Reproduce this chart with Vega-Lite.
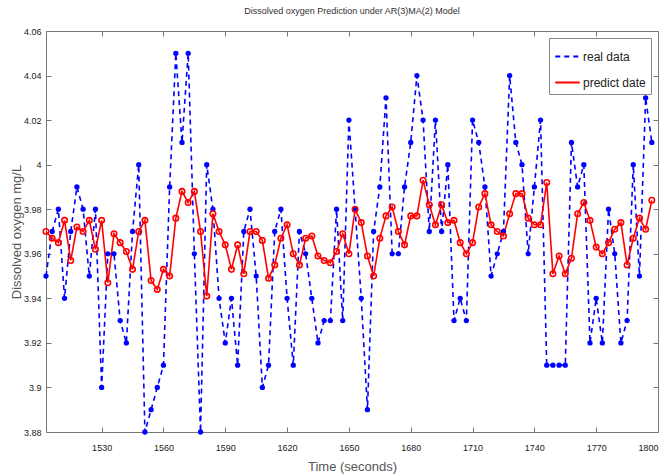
{
  "$schema": "https://vega.github.io/schema/vega-lite/v6.json",
  "autosize": {"type": "none"},
  "width": 612,
  "height": 401,
  "padding": {"left": 46, "top": 31, "right": 8, "bottom": 44},
  "background": "white",
  "title": {"text": "Dissolved oxygen Prediction under AR(3)MA(2) Model", "font": "Liberation Sans", "fontSize": 9, "fontWeight": "normal", "color": "#333", "offset": 11, "anchor": "middle"},
  "config": {
    "view": {"stroke": "#777", "strokeWidth": 1},
    "axis": {"grid": false, "domain": false, "tickColor": "#777", "tickSize": -5, "labelFont": "Liberation Sans", "labelFontSize": 9, "labelColor": "#222", "titleFont": "Liberation Sans", "titleFontSize": 13, "titleFontWeight": "normal", "titleColor": "#555"}
  },
  "data": {"values": [
    {"t":1503,"real data":3.95,"predict date":3.970},
    {"t":1506,"real data":3.97,"predict date":3.967},
    {"t":1509,"real data":3.98,"predict date":3.965},
    {"t":1512,"real data":3.94,"predict date":3.975},
    {"t":1515,"real data":3.97,"predict date":3.957},
    {"t":1518,"real data":3.99,"predict date":3.972},
    {"t":1521,"real data":3.98,"predict date":3.970},
    {"t":1524,"real data":3.95,"predict date":3.975},
    {"t":1527,"real data":3.98,"predict date":3.962},
    {"t":1530,"real data":3.90,"predict date":3.975},
    {"t":1533,"real data":3.96,"predict date":3.947},
    {"t":1536,"real data":3.96,"predict date":3.969},
    {"t":1539,"real data":3.93,"predict date":3.965},
    {"t":1542,"real data":3.92,"predict date":3.961},
    {"t":1545,"real data":3.97,"predict date":3.953},
    {"t":1548,"real data":4.00,"predict date":3.970},
    {"t":1551,"real data":3.88,"predict date":3.975},
    {"t":1554,"real data":3.89,"predict date":3.948},
    {"t":1557,"real data":3.90,"predict date":3.944},
    {"t":1560,"real data":3.91,"predict date":3.953},
    {"t":1563,"real data":3.99,"predict date":3.950},
    {"t":1566,"real data":4.05,"predict date":3.976},
    {"t":1569,"real data":4.01,"predict date":3.988},
    {"t":1572,"real data":4.05,"predict date":3.983},
    {"t":1575,"real data":3.96,"predict date":3.988},
    {"t":1578,"real data":3.88,"predict date":3.970},
    {"t":1581,"real data":4.00,"predict date":3.941},
    {"t":1584,"real data":3.98,"predict date":3.978},
    {"t":1587,"real data":3.94,"predict date":3.970},
    {"t":1590,"real data":3.92,"predict date":3.964},
    {"t":1593,"real data":3.94,"predict date":3.953},
    {"t":1596,"real data":3.91,"predict date":3.964},
    {"t":1599,"real data":3.97,"predict date":3.951},
    {"t":1602,"real data":3.98,"predict date":3.970},
    {"t":1605,"real data":3.95,"predict date":3.970},
    {"t":1608,"real data":3.90,"predict date":3.966},
    {"t":1611,"real data":3.91,"predict date":3.949},
    {"t":1614,"real data":3.97,"predict date":3.955},
    {"t":1617,"real data":3.98,"predict date":3.967},
    {"t":1620,"real data":3.94,"predict date":3.973},
    {"t":1623,"real data":3.91,"predict date":3.960},
    {"t":1626,"real data":3.97,"predict date":3.955},
    {"t":1629,"real data":3.96,"predict date":3.967},
    {"t":1632,"real data":3.94,"predict date":3.968},
    {"t":1635,"real data":3.92,"predict date":3.959},
    {"t":1638,"real data":3.93,"predict date":3.957},
    {"t":1641,"real data":3.93,"predict date":3.956},
    {"t":1644,"real data":3.98,"predict date":3.961},
    {"t":1647,"real data":3.93,"predict date":3.969},
    {"t":1650,"real data":4.02,"predict date":3.960},
    {"t":1653,"real data":3.98,"predict date":3.980},
    {"t":1656,"real data":3.94,"predict date":3.974},
    {"t":1659,"real data":3.89,"predict date":3.959},
    {"t":1662,"real data":3.97,"predict date":3.950},
    {"t":1665,"real data":3.99,"predict date":3.967},
    {"t":1668,"real data":4.03,"predict date":3.977},
    {"t":1671,"real data":3.96,"predict date":3.981},
    {"t":1674,"real data":3.96,"predict date":3.970},
    {"t":1677,"real data":3.99,"predict date":3.964},
    {"t":1680,"real data":4.01,"predict date":3.977},
    {"t":1683,"real data":4.04,"predict date":3.977},
    {"t":1686,"real data":4.02,"predict date":3.993},
    {"t":1689,"real data":3.97,"predict date":3.982},
    {"t":1692,"real data":4.02,"predict date":3.973},
    {"t":1695,"real data":3.97,"predict date":3.982},
    {"t":1698,"real data":4.00,"predict date":3.974},
    {"t":1701,"real data":3.93,"predict date":3.975},
    {"t":1704,"real data":3.94,"predict date":3.965},
    {"t":1707,"real data":3.93,"predict date":3.960},
    {"t":1710,"real data":4.02,"predict date":3.965},
    {"t":1713,"real data":4.01,"predict date":3.981},
    {"t":1716,"real data":3.99,"predict date":3.987},
    {"t":1719,"real data":3.95,"predict date":3.973},
    {"t":1722,"real data":3.96,"predict date":3.970},
    {"t":1725,"real data":3.97,"predict date":3.968},
    {"t":1728,"real data":4.04,"predict date":3.978},
    {"t":1731,"real data":4.01,"predict date":3.987},
    {"t":1734,"real data":4.00,"predict date":3.987},
    {"t":1737,"real data":3.96,"predict date":3.976},
    {"t":1740,"real data":3.99,"predict date":3.973},
    {"t":1743,"real data":4.02,"predict date":3.973},
    {"t":1746,"real data":3.91,"predict date":3.992},
    {"t":1749,"real data":3.91,"predict date":3.951},
    {"t":1752,"real data":3.91,"predict date":3.959},
    {"t":1755,"real data":3.91,"predict date":3.951},
    {"t":1758,"real data":4.01,"predict date":3.958},
    {"t":1761,"real data":3.99,"predict date":3.978},
    {"t":1764,"real data":4.00,"predict date":3.983},
    {"t":1767,"real data":3.92,"predict date":3.975},
    {"t":1770,"real data":3.94,"predict date":3.963},
    {"t":1773,"real data":3.92,"predict date":3.960},
    {"t":1776,"real data":3.98,"predict date":3.965},
    {"t":1779,"real data":3.96,"predict date":3.971},
    {"t":1782,"real data":3.92,"predict date":3.974},
    {"t":1785,"real data":3.93,"predict date":3.955},
    {"t":1788,"real data":4.00,"predict date":3.967},
    {"t":1791,"real data":3.95,"predict date":3.976},
    {"t":1794,"real data":4.03,"predict date":3.971},
    {"t":1797,"real data":4.01,"predict date":3.984}
  ]},
  "transform": [{"fold": ["real data", "predict date"], "as": ["series", "value"]}],
  "resolve": {"axis": {"x": "independent", "y": "independent"}},
  "layer": [
    {
      "mark": {"type": "line", "strokeWidth": 1.6},
      "encoding": {
        "x": {"field": "t", "type": "quantitative", "scale": {"domain": [1503, 1800], "nice": false, "zero": false},
              "axis": {"orient": "bottom", "values": [1530,1560,1590,1620,1650,1680,1710,1740,1770,1800], "format": "d", "title": "Time (seconds)", "labelPadding": 16, "titlePadding": 8}},
        "y": {"field": "value", "type": "quantitative", "scale": {"domain": [3.88, 4.06], "nice": false, "zero": false},
              "axis": {"orient": "left", "values": [3.88,3.9,3.92,3.94,3.96,3.98,4,4.02,4.04,4.06], "format": ".2~f", "title": "Dissolved oxygen mg/L", "labelPadding": 10, "titlePadding": 0}},
        "color": {"field": "series", "type": "nominal", "scale": {"domain": ["real data", "predict date"], "range": ["#0000ff", "#ff0000"]},
                  "legend": {"title": null, "orient": "top-right", "offset": 7, "symbolType": "stroke", "symbolSize": 600, "symbolStrokeWidth": 2, "labelFont": "Liberation Sans", "labelFontSize": 12, "labelColor": "#222", "strokeColor": "#888", "fillColor": "white", "padding": 5, "rowPadding": 6, "symbolOffset": 0, "labelOffset": 2}},
        "strokeDash": {"field": "series", "type": "nominal", "scale": {"domain": ["real data", "predict date"], "range": [[5, 4], [1, 0]]}, "legend": {"title": null}},
        "order": {"field": "t", "type": "quantitative"}
      }
    },
    {
      "transform": [{"filter": "datum.series === 'real data'"}],
      "mark": {"type": "point", "filled": true, "color": "#0000ff", "size": 28, "opacity": 1},
      "encoding": {
        "x": {"field": "t", "type": "quantitative", "axis": {"orient": "top", "values": [1530,1560,1590,1620,1650,1680,1710,1740,1770,1800], "labels": false, "title": null}},
        "y": {"field": "value", "type": "quantitative", "axis": {"orient": "right", "values": [3.88,3.9,3.92,3.94,3.96,3.98,4,4.02,4.04,4.06], "labels": false, "title": null}}
      }
    },
    {
      "transform": [{"filter": "datum.series === 'predict date'"}],
      "mark": {"type": "point", "filled": false, "color": "#ff0000", "size": 30, "strokeWidth": 1.6, "opacity": 1},
      "encoding": {
        "x": {"field": "t", "type": "quantitative", "axis": null},
        "y": {"field": "value", "type": "quantitative", "axis": null}
      }
    }
  ]
}
